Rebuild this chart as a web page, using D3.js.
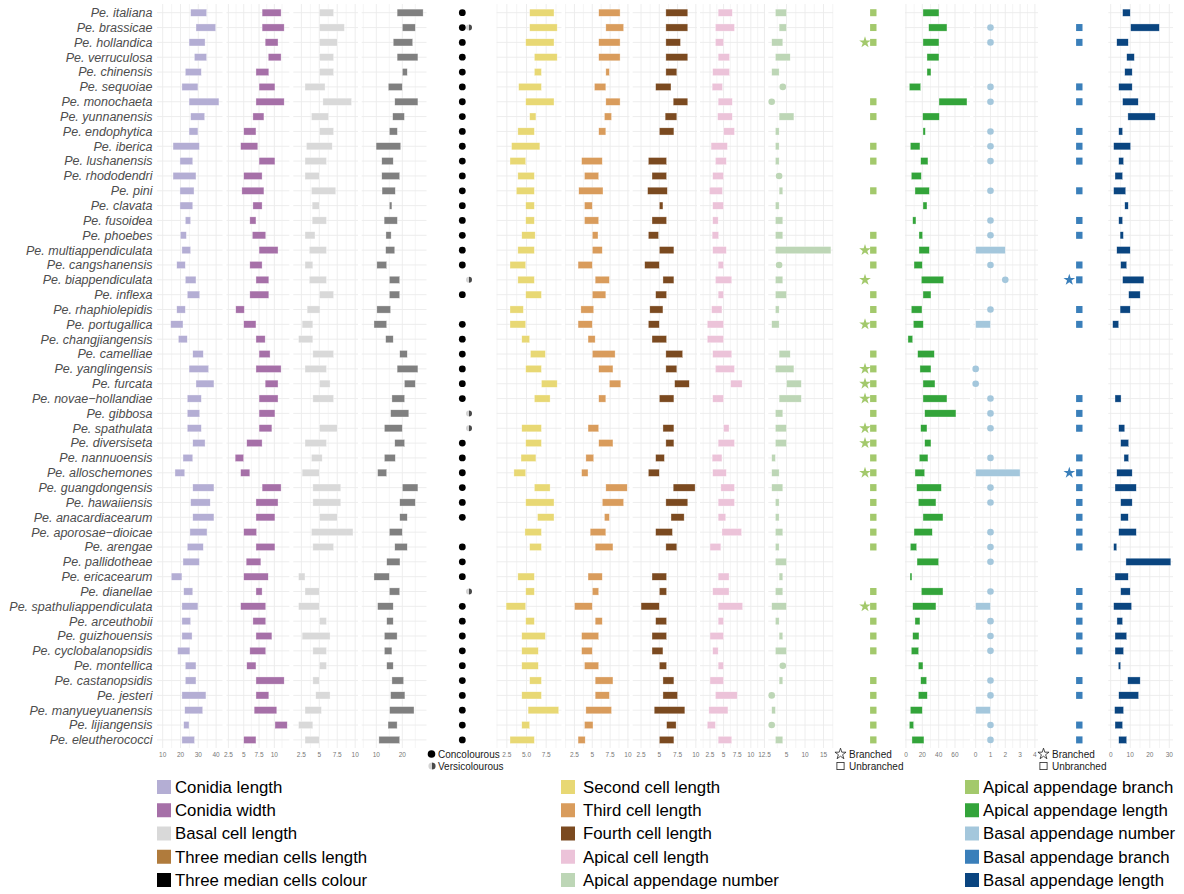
<!DOCTYPE html>
<html>
<head>
<meta charset="utf-8">
<script src="https://cdn.jsdelivr.net/npm/d3@7"></script>
<style>
  body { margin: 0; background: #fff; }
  svg { display: block; }
</style>
</head>
<body>
<svg id="chart" width="1184" height="894"></svg>
<script>
// ---------------- data ----------------
const species = [
  "italiana","brassicae","hollandica","verruculosa","chinensis","sequoiae","monochaeta",
  "yunnanensis","endophytica","iberica","lushanensis","rhododendri","pini","clavata",
  "fusoidea","phoebes","multiappendiculata","cangshanensis","biappendiculata","inflexa",
  "rhaphiolepidis","portugallica","changjiangensis","camelliae","yanglingensis","furcata",
  "novae\u2212hollandiae","gibbosa","spathulata","diversiseta","nannuoensis","alloschemones",
  "guangdongensis","hawaiiensis","anacardiacearum","aporosae\u2212dioicae","arengae",
  "pallidotheae","ericacearum","dianellae","spathuliappendiculata","arceuthobii",
  "guizhouensis","cyclobalanopsidis","montellica","castanopsidis","jesteri",
  "manyueyuanensis","lijiangensis","eleutherococci"
];

const conidiaLength = [
  [25.7,34.7],[28.7,39.8],[24.8,33.8],[27.8,34.7],[22.7,31.7],[20.8,29.8],[24.8,41.6],
  [25.7,33.6],[24.8,29.8],[15.8,30.6],[19.7,26.9],[15.8,28.7],[19.7,27.6],[19.7,26.9],
  [22.7,25.7],[19.9,23.3],[20.8,25.7],[17.9,22.7],[22.7,28.7],[23.8,30.8],[17.9,22.7],
  [14.5,21.4],[18.8,23.8],[26.9,32.8],[24.8,35.8],[28.7,38.8],[23.8,31.7],[23.8,30.8],
  [23.8,31.7],[26.9,33.8],[21.4,26.9],[16.9,22.4],[26.9,38.8],[25.7,36.7],[26.9,38.8],
  [25.3,34.9],[23.8,32.8],[21.4,30.6],[14.8,20.8],[21.8,26.9],[20.8,29.8],[20.8,25.7],
  [20.8,26.5],[18.4,25.3],[22.7,28.7],[22.7,28.7],[20.8,34.3],[22.4,32.5],[21.8,24.8],
  [20.8,27.9]
];

const conidiaWidth = [
  [8.0,11.1],[8.0,11.6],[8.5,10.6],[9.0,11.1],[7.0,9.1],[7.5,10.1],[7.0,11.6],
  [6.5,8.3],[5.0,7.0],[4.5,7.3],[7.5,10.1],[5.0,8.0],[4.7,8.3],[6.5,8.0],
  [6.0,7.0],[6.4,8.6],[7.5,10.6],[6.0,8.0],[7.0,9.1],[6.0,9.1],[3.7,5.1],
  [5.0,7.0],[7.0,8.5],[7.5,9.3],[7.0,11.1],[8.5,10.6],[7.5,10.6],[7.5,10.1],
  [7.5,9.6],[5.5,8.0],[3.6,5.0],[4.5,6.0],[8.0,11.1],[7.0,10.6],[7.0,10.1],
  [5.0,7.1],[7.0,10.1],[5.4,7.8],[5.0,9.0],[7.0,8.0],[4.5,8.6],[6.5,8.6],
  [7.0,9.6],[6.0,8.6],[5.5,7.0],[7.0,11.6],[7.0,9.1],[6.7,10.4],[10.1,12.1],
  [5.0,7.0]
];

const basalCellLength = [
  [5.0,7.0],[5.0,8.5],[5.0,7.5],[5.0,7.0],[5.0,7.0],[3.0,5.8],[5.5,9.5],
  [3.9,6.3],[5.0,7.0],[3.2,6.8],[3.0,6.0],[3.0,5.0],[3.9,7.3],[4.0,5.0],
  [4.0,6.0],[3.0,4.4],[3.6,6.0],[3.0,4.1],[3.6,6.0],[5.0,7.0],[3.3,5.1],
  [2.6,4.1],[2.1,4.1],[4.1,7.0],[3.0,6.0],[5.0,6.5],[4.1,7.0],null,
  [5.0,7.5],[3.0,6.0],[3.9,5.4],[2.6,5.0],[4.1,8.0],[4.1,8.0],[5.0,7.5],
  [3.9,9.7],[4.1,7.0],null,[2.1,3.0],[3.0,5.0],[2.1,5.0],[5.0,6.0],
  [2.6,6.5],[4.1,6.0],[5.0,6.0],[4.1,5.0],[4.5,6.5],[3.0,5.3],[2.1,4.1],
  [3.0,5.0]
];

const medianCellsLength = [
  [18.0,28.0],[20.0,25.0],[16.5,24.0],[18.0,26.0],[20.0,21.9],[14.6,20.0],[17.1,26.0],
  [16.3,20.8],[15.0,18.1],[9.9,19.4],[12.1,16.5],[12.1,19.0],[12.2,17.3],[15.0,16.0],
  [13.0,18.1],[13.7,15.7],[13.6,17.1],[10.2,14.0],[15.0,19.0],[15.0,19.0],[10.2,15.5],
  [9.1,14.0],[13.6,16.5],[19.0,21.9],[18.0,26.0],[20.8,25.0],[16.0,20.9],[15.5,22.5],
  [13.1,20.0],[17.1,20.9],[13.1,17.3],[10.5,14.0],[20.0,26.0],[19.0,25.0],[19.0,21.9],
  [15.0,20.0],[17.1,21.9],[14.0,19.1],[9.1,15.0],[15.0,19.0],[10.5,16.5],[14.0,16.5],
  [13.1,18.0],[13.1,16.0],[14.0,16.5],[16.0,20.5],[15.5,21.0],[15.1,24.5],[14.5,18.0],
  [11.0,19.0]
];

// C = concolourous, V = versicolourous, "" = not recorded
const medianCellsColour = [
  "C","CV","C","C","C","C","C","C","C","C","C","C","C","C","C","C","C","C","V","C",
  "","C","C","C","C","C","C","V","V","C","C","C","C","C","C","","C","C","C","V",
  "C","C","C","C","C","C","C","C","C","C"
];

const secondCellLength = [
  [5.4,8.5],[5.4,8.9],[4.9,8.5],[6.0,8.9],[6.0,6.9],[4.0,6.9],[4.9,8.5],
  [5.4,6.2],[3.9,6.0],[3.1,6.7],[2.9,4.9],[3.9,6.0],[3.7,6.0],[4.9,6.0],
  [4.9,6.0],[4.4,6.1],[3.9,6.0],[2.9,4.9],[3.9,6.0],[4.9,6.9],[2.9,4.6],
  [2.9,4.9],[4.4,5.4],[5.5,7.4],[4.9,6.9],[6.9,8.9],[6.0,8.0],null,
  [4.4,6.9],[4.9,6.9],[4.3,6.2],[3.4,4.9],[6.0,8.0],[4.9,8.5],[6.4,8.5],
  [4.8,6.9],[5.4,6.9],null,[3.9,6.0],[4.9,6.0],[2.4,4.9],[4.9,6.0],
  [4.4,7.4],[4.4,6.5],[4.4,6.5],[5.4,6.9],[4.4,6.9],[5.2,9.1],[4.4,5.4],
  [2.9,6.0]
];

const thirdCellLength = [
  [5.9,8.9],[6.9,9.4],[5.9,8.9],[5.9,8.9],[6.9,7.4],[5.3,6.9],[6.9,8.9],
  [6.7,7.7],[5.9,6.9],null,[3.5,6.4],[3.9,5.9],[3.1,6.5],[3.9,5.0],
  [3.9,5.9],[5.0,5.8],[5.0,6.4],[3.0,5.0],[5.4,7.4],[5.0,6.9],[3.4,5.2],
  [3.0,5.0],[4.4,5.4],[5.0,8.2],[5.9,7.9],[7.4,9.0],[5.9,6.9],null,
  [4.4,5.9],[5.9,7.9],[4.1,5.2],[3.5,4.4],[6.9,9.9],[6.4,9.4],[6.7,7.4],
  [4.7,6.9],[5.4,7.9],null,[4.4,6.4],[5.0,5.9],[2.5,5.0],[5.4,6.4],
  [3.5,5.9],[3.5,5.0],[3.9,5.9],[5.4,7.9],[5.4,7.4],[4.1,7.7],[3.9,5.1],
  [3.0,4.0]
];

const fourthCellLength = [
  [5.9,8.9],[5.9,8.9],[5.9,7.9],[5.9,8.9],[5.9,7.4],[4.5,6.6],[6.9,8.9],
  [5.8,7.4],[5.0,7.0],null,[3.5,6.0],[4.0,6.0],[3.4,6.1],[5.0,5.5],
  [4.0,6.0],[3.5,4.9],[5.0,7.0],[3.0,5.0],[5.5,7.0],[4.5,6.0],[3.7,5.5],
  [3.5,5.0],[4.0,6.0],[5.9,8.2],[5.9,7.4],[7.1,9.1],[5.0,7.0],null,
  [5.5,7.0],[5.9,7.0],[4.5,5.7],[3.5,5.0],[6.9,9.9],[5.9,8.9],[6.6,8.4],
  [4.5,6.8],[5.9,7.4],null,[4.0,6.0],[5.0,6.0],[2.5,5.0],[4.5,6.0],
  [4.0,6.0],[4.0,5.5],[5.0,6.0],[5.5,7.0],[5.5,7.5],[4.3,8.5],[6.0,7.3],
  [5.0,7.0]
];

const apicalCellLength = [
  [4.0,6.6],[3.5,7.0],[3.5,5.0],[4.0,6.1],[3.0,6.1],[2.9,4.8],[4.0,6.6],
  [3.9,6.6],[5.0,7.0],[2.7,5.7],[3.5,5.5],[3.0,5.0],[2.4,4.8],[3.0,5.0],
  [3.0,4.0],[2.9,4.1],[3.0,5.5],[4.0,5.0],[3.5,6.5],[4.0,5.0],[2.8,4.7],
  [2.0,5.0],[2.0,5.0],[3.0,6.5],[3.5,7.0],[6.3,8.4],[3.0,5.0],null,
  [5.0,6.0],[4.0,7.0],[2.9,4.7],[3.0,5.5],[4.5,7.0],[4.0,7.0],[4.0,5.4],
  [4.7,8.3],[2.5,4.5],null,[4.0,6.0],[3.0,6.0],[4.0,8.5],[4.0,5.0],
  [2.5,5.0],[3.0,4.0],[4.0,5.0],[2.5,5.0],[3.5,7.5],[2.3,5.8],[2.0,3.5],
  [4.0,6.5]
];

const apicalAppendageNumber = [
  [2,5],[3,5],[1,4],[2,6],[1,3],[4,4],[1,1],[3,7],[2,3],[2,3],
  [2,3],[3,3],[3,4],[2,3],[2,4],[2,4],[2,17],[3,3],[2,4],[2,5],
  [2,3],[1,3],null,[3,6],[2,7],[5,9],[3,9],[2,4],[2,5],[2,5],
  [1,2],[1,3],[1,4],[2,3],[2,3],[2,4],[2,3],[2,5],[3,4],[2,4],
  [1,5],[2,3],[3,4],[2,5],[4,4],[3,4],[1,1],[1,2],[1,1],[2,4]
];

// B = branched, U = unbranched, "" = not recorded
const apicalAppendageBranch = [
  "U","U","BU","","","","U","U","","U","U","","U","","","U","BU","U","B","U",
  "U","BU","","U","BU","BU","BU","U","BU","BU","U","BU","U","U","U","U","U","","","U",
  "BU","U","U","U","","U","U","U","U","U"
];

const apicalAppendageLength = [
  [20.8,40.4],[27.8,50.2],[20.8,40.4],[25.7,40.4],[25.7,30.6],[4.1,18.0],[40.4,74.7],
  [20.4,40.8],[20.8,23.7],[5.3,17.1],[18.0,26.9],[6.5,18.8],[11.0,28.6],[20.8,25.7],
  [8.2,12.2],[15.9,20.4],[15.9,28.6],[9.8,20.0],[18.8,46.1],[20.8,30.6],[6.5,19.6],
  [9.0,21.2],[2.4,8.2],[14.3,34.7],[17.1,30.6],[20.8,35.5],[20.8,50.2],[22.9,61.2],
  [18.0,25.7],[22.9,30.6],[16.3,26.9],[11.0,22.9],[13.1,43.3],[15.1,36.7],[20.8,45.3],
  [9.8,32.2],[5.3,13.1],[13.5,40.0],[4.9,7.3],[18.8,45.3],[8.2,36.7],[11.0,17.1],
  [8.2,15.9],[6.5,15.5],[15.1,20.8],[18.0,25.3],[15.1,26.1],[5.3,20.0],[4.1,9.4],
  [7.3,22.0]
];

const basalAppendageNumber = [
  null,[1,1],[1,1],null,null,[1,1],[1,1],null,[1,1],[1,1],
  [1,1],null,[1,1],null,[1,1],[1,1],[0,2],[1,1],[2,2],null,
  [1,1],[0,1],null,null,[0,0],[0,0],[1,1],[1,1],[1,1],null,
  [1,1],[0,3],[1,1],[1,1],null,[1,1],[1,1],[1,1],null,[1,1],
  [0,1],[1,1],[1,1],[1,1],null,[1,1],[1,1],[0,1],[1,1],[1,1]
];

const basalAppendageBranch = [
  "","U","U","","","U","U","","U","U","U","","U","","U","U","","U","BU","",
  "U","U","","","","","U","U","U","","U","BU","U","U","U","U","U","","","U",
  "U","U","U","U","","U","U","","U","U"
];

const basalAppendageLength = [
  [6.1,10.0],[10.2,24.9],[3.1,9.0],[8.2,12.1],[7.2,11.0],[4.1,11.0],[6.1,14.1],
  [8.8,22.8],[4.1,6.1],[1.5,10.2],[4.1,6.6],[2.2,6.1],[1.5,7.7],[7.2,9.0],
  [4.1,6.1],[4.8,6.5],[3.1,10.0],[5.1,8.2],[6.1,17.0],[9.2,15.1],[4.8,10.0],
  [1.0,4.1],null,null,null,null,[2.2,5.3],null,
  [4.1,7.2],[5.1,9.2],[6.8,9.2],[3.1,11.0],[2.2,13.1],[5.1,11.0],[5.1,9.0],
  [4.1,13.1],[1.5,3.1],[7.8,30.8],[2.2,9.0],[5.1,10.0],[1.5,10.7],[3.2,6.1],
  [2.2,8.2],[2.2,6.6],[3.9,5.1],[8.7,15.1],[4.1,14.3],[2.0,6.6],[2.2,6.1],
  [4.1,8.2]
];

const legendLabels = [
  "Conidia length","Conidia width","Basal cell length","Three median cells length",
  "Three median cells colour","Second cell length","Third cell length","Fourth cell length",
  "Apical cell length","Apical appendage number","Apical appendage branch",
  "Apical appendage length","Basal appendage number","Basal appendage branch",
  "Basal appendage length"
];

// ---------------- styling ----------------
const palette = {
  "Conidia length": "#b4aed4",
  "Conidia width": "#a670a8",
  "Basal cell length": "#d9d9d9",
  "Three median cells length": "#b07b3c",
  "Three median cells colour": "#000000",
  "Second cell length": "#e8d874",
  "Third cell length": "#d99c5c",
  "Fourth cell length": "#7b4a20",
  "Apical cell length": "#ecc3d9",
  "Apical appendage number": "#bdd6b6",
  "Apical appendage branch": "#a3c96c",
  "Apical appendage length": "#33a43a",
  "Basal appendage number": "#a4c7dc",
  "Basal appendage branch": "#3a7fba",
  "Basal appendage length": "#0a4580"
};
const medianGrey = "#808080";
const gridColor = "#ebebeb";
const textGrey = "#4d4d4d";
const FONT = "'Liberation Sans', Arial, Helvetica, sans-serif";

const svg = d3.select("#chart");
const y = d3.scalePoint().domain(species).range([12.7, 739.9]);
const barH = 7.2;
const axisY = 755;

// species labels
svg.append("g").selectAll("text").data(species).join("text")
  .attr("x", 152.5).attr("y", d => y(d)).attr("dy", "0.35em")
  .attr("text-anchor", "end")
  .style("font-family", FONT).style("font-size", "12.5px").style("font-style", "italic")
  .attr("fill", textGrey)
  .text(d => "Pe. " + d);

// range panels: [values, pixel extent, domain, ticks, colour]
const rangePanels = [
  { values: conidiaLength, ext: [157, 222.5], domain: [6.8, 43.6], ticks: [10,20,30,40], fill: palette["Conidia length"] },
  { values: conidiaWidth, ext: [226.5, 289.3], domain: [2.19, 12.44], ticks: [2.5,5,7.5,10], fill: palette["Conidia width"] },
  { values: basalCellLength, ext: [293.3, 358], domain: [1.37, 10.4], ticks: [2.5,5,7.5,10], fill: palette["Basal cell length"] },
  { values: medianCellsLength, ext: [361.7, 426.5], domain: [4.38, 29.3], ticks: [10,20], fill: medianGrey },
  { values: secondCellLength, ext: [496.7, 561.5], domain: [1.21, 9.45], ticks: [2.5,5,7.5], fmt: d3.format(".1f"), fill: palette["Second cell length"] },
  { values: thirdCellLength, ext: [565, 629.5], domain: [1.17, 10.22], ticks: [2.5,5,7.5,10], fill: palette["Third cell length"] },
  { values: fourthCellLength, ext: [632.7, 697], domain: [1.36, 10.16], ticks: [2.5,5,7.5,10], fill: palette["Fourth cell length"] },
  { values: apicalCellLength, ext: [700, 765], domain: [0.67, 12.6], ticks: [2.5,5,7.5,10,12.5], fill: palette["Apical cell length"] },
  { values: apicalAppendageNumber, ext: [768.3, 833], domain: [0.08, 17.56], ticks: [5,10,15], fill: palette["Apical appendage number"], dots: true },
  { values: apicalAppendageLength, ext: [905, 970], domain: [-1.22, 78.4], ticks: [0,20,40,60], fill: palette["Apical appendage length"] },
  { values: basalAppendageNumber, ext: [973.3, 1038], domain: [-0.16, 4.21], ticks: [0,1,2,3,4], fill: palette["Basal appendage number"], dots: true },
  { values: basalAppendageLength, ext: [1108.3, 1173], domain: [-1.23, 31.9], ticks: [0,10,20,30], fill: palette["Basal appendage length"] }
];

function minorTicks(ticks, domain) {
  const step = ticks.length > 1 ? ticks[1] - ticks[0] : 1;
  const out = [];
  const cands = [ticks[0] - step / 2].concat(ticks.map(t => t + step / 2));
  cands.forEach(v => { if (v > domain[0] && v < domain[1]) out.push(v); });
  return out;
}

rangePanels.forEach(p => {
  const x = d3.scaleLinear().domain(p.domain).range(p.ext);
  const g = svg.append("g");
  // grid
  const grid = g.append("g");
  grid.selectAll("line.minor").data(minorTicks(p.ticks, p.domain)).join("line")
    .attr("x1", d => x(d)).attr("x2", d => x(d)).attr("y1", 4).attr("y2", 748)
    .attr("stroke", gridColor).attr("stroke-width", 0.5);
  grid.selectAll("line.major").data(p.ticks).join("line")
    .attr("x1", d => x(d)).attr("x2", d => x(d)).attr("y1", 4).attr("y2", 748)
    .attr("stroke", gridColor).attr("stroke-width", 0.9);
  grid.selectAll("line.row").data(species).join("line")
    .attr("x1", p.ext[0]).attr("x2", p.ext[1]).attr("y1", d => y(d)).attr("y2", d => y(d))
    .attr("stroke", gridColor).attr("stroke-width", 0.9);
  // tick labels
  const fmt = p.fmt || (d => String(d));
  g.append("g").selectAll("text").data(p.ticks).join("text")
    .attr("x", d => x(d)).attr("y", axisY).attr("dy", "0.35em")
    .attr("text-anchor", "middle")
    .style("font-family", FONT).style("font-size", "6.5px")
    .attr("fill", "#777")
    .text(fmt);
  // marks
  const rows = species.map((s, i) => ({ s, v: p.values[i] })).filter(d => d.v);
  const bars = rows.filter(d => !(p.dots && d.v[0] === d.v[1]));
  const pts = rows.filter(d => p.dots && d.v[0] === d.v[1]);
  g.append("g").selectAll("rect").data(bars).join("rect")
    .attr("x", d => x(d.v[0])).attr("width", d => Math.max(1.5, x(d.v[1]) - x(d.v[0])))
    .attr("y", d => y(d.s) - barH / 2).attr("height", barH)
    .attr("fill", p.fill).attr("stroke", "#fff").attr("stroke-width", 0.5).attr("stroke-opacity", 0.7);
  g.append("g").selectAll("circle").data(pts).join("circle")
    .attr("cx", d => x(d.v[0])).attr("cy", d => y(d.s)).attr("r", 3.3)
    .attr("fill", p.fill);
});

// three median cells colour
const xColour = d3.scalePoint().domain(["C", "V"]).range([462.3, 470]);
const colourRows = [];
species.forEach((s, i) => {
  medianCellsColour[i].split("").forEach(c => colourRows.push({ s, c }));
});
const cg = svg.append("g");
cg.selectAll("circle").data(colourRows.filter(d => d.c === "C")).join("circle")
  .attr("cx", d => xColour(d.c)).attr("cy", d => y(d.s)).attr("r", 3.4).attr("fill", "#000");
function halfDisc(sel, r) {
  sel.append("path").attr("d", `M0,${-r}A${r},${r} 0 0 0 0,${r}Z`).attr("fill", "#d4d4d4");
  sel.append("path").attr("d", `M0,${-r}A${r},${r} 0 0 1 0,${r}Z`).attr("fill", "#4a4a4a");
}
cg.selectAll("g.v").data(colourRows.filter(d => d.c === "V")).join("g")
  .attr("transform", d => `translate(${xColour(d.c) - 1},${y(d.s)})`)
  .each(function () { halfDisc(d3.select(this), 3); });

// branch panels
function branchPanel(values, xPos, fill) {
  const xb = d3.scalePoint().domain(["B", "U"]).range(xPos);
  const items = [];
  species.forEach((s, i) => values[i].split("").forEach(c => items.push({ s, c })));
  const g = svg.append("g");
  g.selectAll("rect").data(items.filter(d => d.c === "U")).join("rect")
    .attr("x", d => xb(d.c) - 3.2).attr("y", d => y(d.s) - 3.5)
    .attr("width", 6.4).attr("height", 7).attr("fill", fill);
  g.selectAll("path").data(items.filter(d => d.c === "B")).join("path")
    .attr("transform", d => `translate(${xb(d.c)},${y(d.s)})`)
    .attr("d", d3.symbol(d3.symbolStar, 42)).attr("fill", fill);
}
branchPanel(apicalAppendageBranch, [865, 873.3], palette["Apical appendage branch"]);
branchPanel(basalAppendageBranch, [1069.3, 1079.3], palette["Basal appendage branch"]);

// panel legends under the axes
const smallLeg = svg.append("g").style("font-family", FONT).style("font-size", "10px").attr("fill", "#1a1a1a");
smallLeg.append("circle").attr("cx", 431.5).attr("cy", 754).attr("r", 3.8).attr("fill", "#000");
smallLeg.append("g").attr("transform", "translate(432,766)").call(s => halfDisc(s, 3.6));
smallLeg.append("text").attr("x", 438).attr("y", 754).attr("dy", "0.35em").text("Concolourous");
smallLeg.append("text").attr("x", 438).attr("y", 766).attr("dy", "0.35em").text("Versicolourous");
[[840.5, 849], [1043.5, 1052]].forEach(([sx, tx]) => {
  smallLeg.append("path").attr("transform", `translate(${sx},754)`)
    .attr("d", d3.symbol(d3.symbolStar, 38)).attr("fill", "none").attr("stroke", "#222").attr("stroke-width", 0.8);
  smallLeg.append("rect").attr("x", sx - 3.6).attr("y", 762.4).attr("width", 7.2).attr("height", 7.2)
    .attr("fill", "none").attr("stroke", "#222").attr("stroke-width", 0.8);
  smallLeg.append("text").attr("x", tx).attr("y", 754).attr("dy", "0.35em").text("Branched");
  smallLeg.append("text").attr("x", tx).attr("y", 766).attr("dy", "0.35em").text("Unbranched");
});

// main legend, three columns of five
const legSwatchX = [157, 561, 965];
const legTextX = [175, 583, 983];
const legY = d3.scalePoint().domain(d3.range(5)).range([787, 880]);
const lg = svg.append("g").style("font-family", FONT).style("font-size", "16.8px").attr("fill", "#000");
legendLabels.forEach((lab, i) => {
  const col = Math.floor(i / 5), cy = legY(i % 5);
  lg.append("rect").attr("x", legSwatchX[col]).attr("y", cy - 7).attr("width", 14).attr("height", 14).attr("fill", palette[lab]);
  lg.append("text").attr("x", legTextX[col]).attr("y", cy).attr("dy", "0.35em").text(lab);
});
</script>
</body>
</html>
